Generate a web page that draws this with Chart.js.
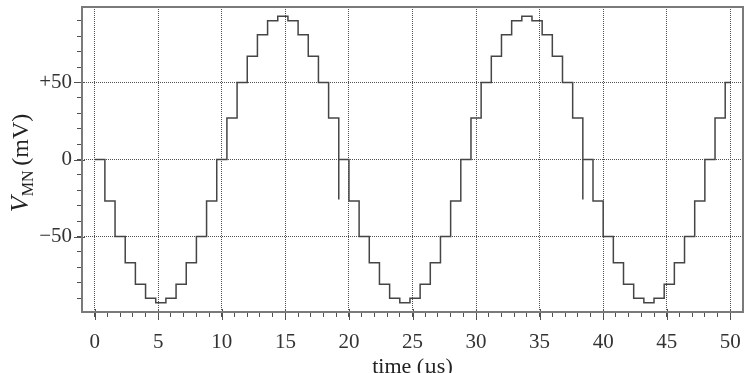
<!DOCTYPE html>
<html lang="en">
<head>
<meta charset="UTF-8">
<title>V_MN staircase</title>
<script src="https://cdn.jsdelivr.net/npm/chart.js"></script>
<style>
    body { margin: 0; background: #fff; }
    canvas { display: block; }
</style>
</head>
<body>
<canvas id="vmnChart" width="746" height="373"></canvas>
<script>
// step start times (µs) and the level held from that time on (mV)
const times = [
    0, 0.8, 1.6, 2.4, 3.2, 4.0, 4.8, 5.6, 6.4, 7.2, 8.0, 8.8,
    9.6, 10.4, 11.2, 12.0, 12.8, 13.6, 14.4, 15.2, 16.0, 16.8, 17.6, 18.4,
    19.2, 19.2, 20.0, 20.8, 21.6, 22.4, 23.2, 24.0, 24.8, 25.6, 26.4, 27.2, 28.0,
    28.8, 29.6, 30.4, 31.2, 32.0, 32.8, 33.6, 34.4, 35.2, 36.0, 36.8, 37.6,
    38.4, 38.4, 39.2, 40.0, 40.8, 41.6, 42.4, 43.2, 44.0, 44.8, 45.6, 46.4, 47.2,
    48.0, 48.8, 49.6, 50.0
];
const vmn = [
    0, -27, -50, -67, -81, -90, -93, -90, -81, -67, -50, -27,
    0, 27, 50, 67, 81, 90, 93, 90, 81, 67, 50, 27,
    -26, 0, -27, -50, -67, -81, -90, -93, -90, -81, -67, -50, -27,
    0, 27, 50, 67, 81, 90, 93, 90, 81, 67, 50, 27,
    -26, 0, -27, -50, -67, -81, -90, -93, -90, -81, -67, -50, -27,
    0, 27, 50, 50
];
const xMajor = [0, 5, 10, 15, 20, 25, 30, 35, 40, 45, 50];
const yMajor = [-50, 0, 50];
const yLabels = ['\u221250', '0', '+50'];

const serif = 'Liberation Serif';
const gridColor = '#505050';

function minorTicks(from, to, step) {
    const out = [];
    for (let v = from; v <= to + 1e-9; v += step) out.push({ value: Math.round(v * 10) / 10 });
    return out;
}

const framePlugin = {
    id: 'frame',
    afterDraw(chart) {
        const { ctx, chartArea: a } = chart;
        const xs = chart.scales.x, ys = chart.scales.y;
        ctx.save();
        // longer ticks at the labelled positions
        ctx.strokeStyle = gridColor;
        ctx.lineWidth = 1;
        ctx.beginPath();
        xMajor.forEach(v => {
            const px = Math.round(xs.getPixelForValue(v)) + 0.5;
            ctx.moveTo(px, a.bottom - 3);
            ctx.lineTo(px, a.bottom + 8);
        });
        yMajor.forEach(v => {
            const py = Math.round(ys.getPixelForValue(v)) + 0.5;
            ctx.moveTo(a.left - 8, py);
            ctx.lineTo(a.left + 3, py);
        });
        ctx.stroke();
        ctx.strokeStyle = '#7a7a7a';
        ctx.lineWidth = 2;
        ctx.strokeRect(a.left, a.top, a.right - a.left, a.bottom - a.top);

        // axis titles
        ctx.fillStyle = '#222';
        ctx.textBaseline = 'alphabetic';
        ctx.textAlign = 'center';
        ctx.font = '22px "' + serif + '"';
        ctx.fillText('time (\u00b5s)', (a.left + a.right) / 2, 373);

        const parts = [
            { t: 'V', font: 'italic 26px "' + serif + '"', dy: 0 },
            { t: 'MN', font: '16px "' + serif + '"', dy: 5 },
            { t: '\u2009(mV)', font: '24px "' + serif + '"', dy: 0 }
        ];
        let total = 0;
        parts.forEach(p => { ctx.font = p.font; p.w = ctx.measureText(p.t).width; total += p.w; });
        ctx.translate(28, 163);
        ctx.rotate(-Math.PI / 2);
        ctx.textAlign = 'left';
        let x = -total / 2;
        parts.forEach(p => { ctx.font = p.font; ctx.fillText(p.t, x, p.dy); x += p.w; });
        ctx.restore();
    }
};

const ctx = document.getElementById('vmnChart').getContext('2d');
new Chart(ctx, {
    type: 'line',
    data: {
        datasets: [{
            data: times.map((t, i) => ({ x: t, y: vmn[i] })),
            stepped: true,
            borderColor: '#454545',
            borderWidth: 1.5,
            pointRadius: 0,
            fill: false
        }]
    },
    options: {
        responsive: false,
        animation: false,
        devicePixelRatio: 1,
        layout: { padding: { left: 0, right: 3, top: 7, bottom: 0 } },
        plugins: { legend: { display: false }, tooltip: { enabled: false } },
        scales: {
            x: {
                type: 'linear',
                min: -1,
                max: 51,
                afterBuildTicks: s => { s.ticks = minorTicks(0, 50, 1); },
                afterFit: s => {
                    s.height = 61;
                    s.paddingLeft = 0;
                    s.paddingRight = 0;
                },
                ticks: {
                    autoSkip: false,
                    maxRotation: 0,
                    padding: 13,
                    color: '#333',
                    font: { family: serif, size: 21 },
                    callback: v => xMajor.includes(v) ? String(v) : ''
                },
                grid: {
                    color: c => (c.tick && xMajor.includes(c.tick.value)) ? gridColor : 'rgba(0,0,0,0)',
                    tickColor: gridColor,
                    tickLength: 5,
                    lineWidth: 1
                },
                border: { display: false, dash: [1, 1] }
            },
            y: {
                min: -99,
                max: 99,
                afterBuildTicks: s => { s.ticks = minorTicks(-90, 90, 10); },
                afterFit: s => {
                    s.width = 82;
                    s.paddingTop = 0;
                    s.paddingBottom = 0;
                },
                ticks: {
                    autoSkip: false,
                    padding: 5,
                    color: '#333',
                    font: { family: serif, size: 21 },
                    callback: v => {
                        const k = yMajor.indexOf(v);
                        return k >= 0 ? yLabels[k] : '';
                    }
                },
                grid: {
                    color: c => (c.tick && yMajor.includes(c.tick.value)) ? gridColor : 'rgba(0,0,0,0)',
                    tickColor: gridColor,
                    tickLength: 5,
                    lineWidth: 1
                },
                border: { display: false, dash: [1, 1] }
            }
        }
    },
    plugins: [framePlugin]
});
</script>
</body>
</html>
